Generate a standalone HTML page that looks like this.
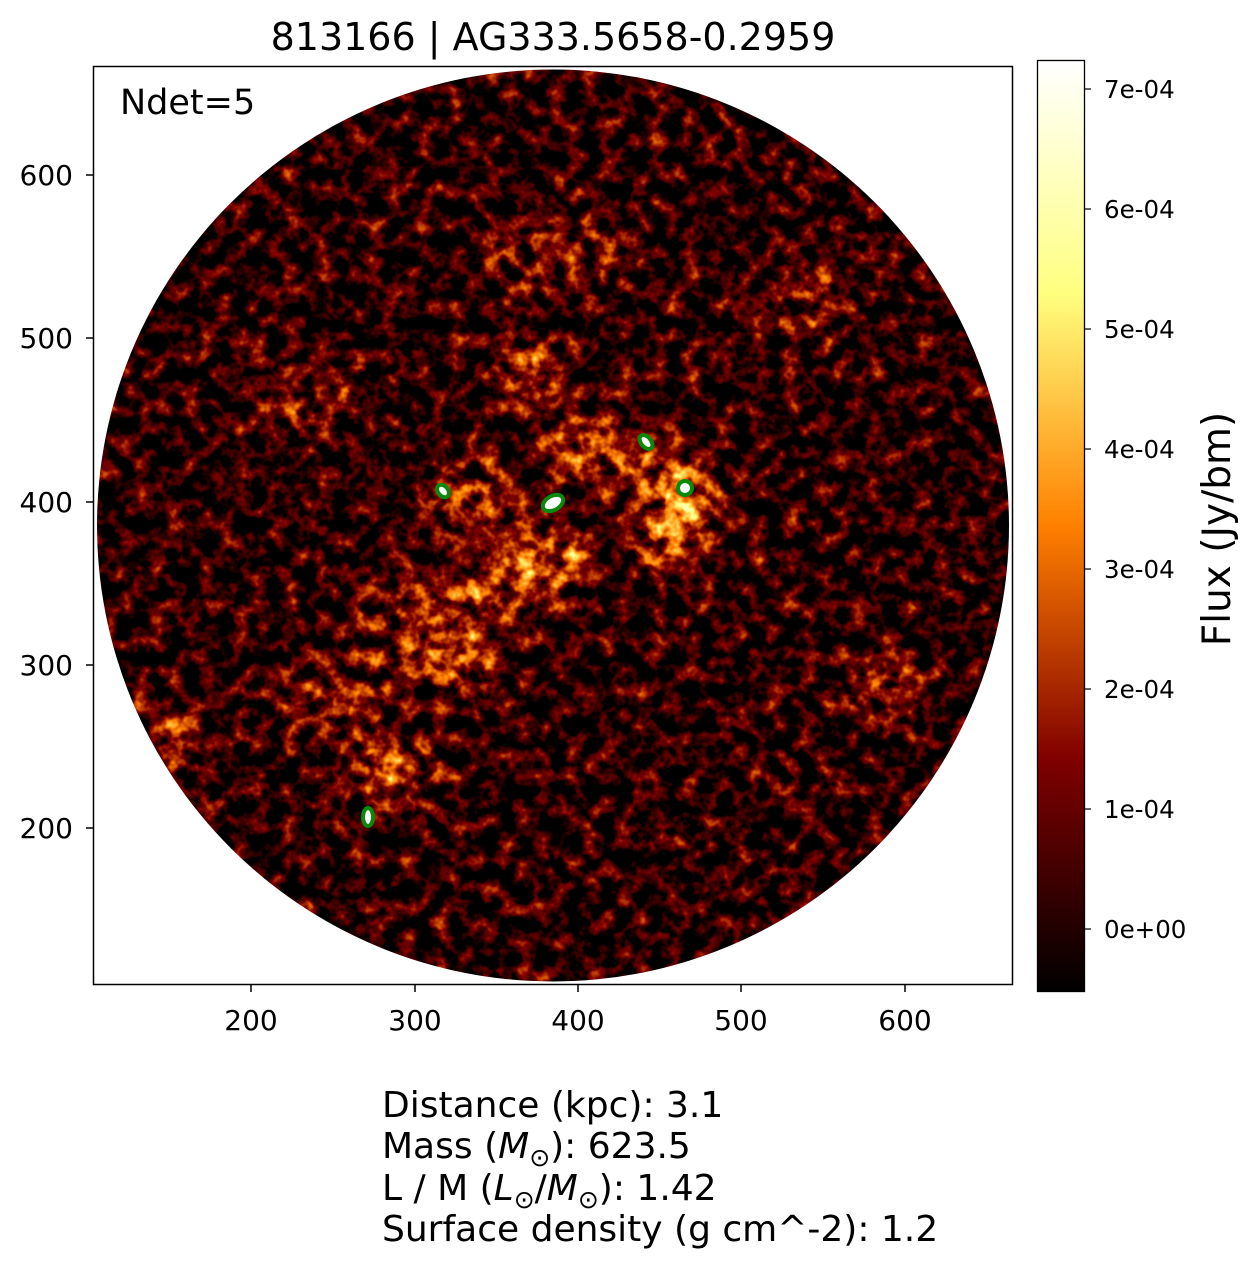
<!DOCTYPE html>
<html><head><meta charset="utf-8"><style>
html,body{margin:0;padding:0;background:#fff;}
body{width:1257px;height:1267px;position:relative;overflow:hidden;font-family:"DejaVu Sans","Liberation Sans",sans-serif;color:#000;}
</style></head><body>
<svg width="1257" height="1267" viewBox="0 0 1257 1267" xmlns="http://www.w3.org/2000/svg" style="position:absolute;left:0;top:0">
<defs>
<clipPath id="cc"><circle cx="553" cy="525.5" r="456"/></clipPath>
<filter id="f" filterUnits="userSpaceOnUse" x="95" y="68" width="918" height="918" color-interpolation-filters="sRGB">
<feTurbulence type="fractalNoise" baseFrequency="0.06" numOctaves="3" seed="7" result="t"/>
<feColorMatrix in="t" type="matrix" values="1 0 0 0 0  1 0 0 0 0  1 0 0 0 0  0 0 0 0 1" result="tg"/>
<feGaussianBlur in="SourceGraphic" stdDeviation="18" result="b"/>
<feComposite in="tg" in2="b" operator="arithmetic" k1="0.5" k2="1.0" k3="0.3" k4="-0.43" result="c"/>
<feComponentTransfer in="c">
<feFuncR type="table" tableValues="0 1 1"/>
<feFuncG type="table" tableValues="0 0 0.5 1 1"/>
<feFuncB type="table" tableValues="0 0 1"/>
<feFuncA type="table" tableValues="1 1"/>
</feComponentTransfer>
</filter>
<linearGradient id="cb" x1="0" y1="1" x2="0" y2="0">
<stop offset="0" stop-color="#000"/>
<stop offset="0.25" stop-color="#800000"/>
<stop offset="0.5" stop-color="#ff8000"/>
<stop offset="0.75" stop-color="#ffff80"/>
<stop offset="1" stop-color="#fff"/>
</linearGradient>
</defs>
<g clip-path="url(#cc)">
<g filter="url(#f)">
<rect x="95" y="68" width="918" height="918" fill="#000"/>
<g fill="#fff">
<ellipse cx="680" cy="505" rx="30" ry="45" opacity="1"/>
<ellipse cx="665" cy="545" rx="30" ry="20" opacity="0.8"/>
<ellipse cx="545" cy="560" rx="45" ry="30" opacity="0.7"/>
<ellipse cx="500" cy="590" rx="40" ry="30" opacity="0.5"/>
<ellipse cx="530" cy="370" rx="30" ry="35" opacity="0.55"/>
<ellipse cx="600" cy="450" rx="60" ry="40" opacity="0.45"/>
<ellipse cx="455" cy="660" rx="45" ry="30" opacity="0.5"/>
<ellipse cx="390" cy="770" rx="45" ry="30" opacity="0.55"/>
<ellipse cx="175" cy="740" rx="25" ry="40" opacity="0.45"/>
<ellipse cx="880" cy="690" rx="40" ry="30" opacity="0.4"/>
<ellipse cx="470" cy="500" rx="50" ry="40" opacity="0.4"/>
<ellipse cx="560" cy="250" rx="80" ry="40" opacity="0.25"/>
<ellipse cx="420" cy="620" rx="60" ry="50" opacity="0.35"/>
<ellipse cx="330" cy="700" rx="60" ry="40" opacity="0.3"/>
<ellipse cx="800" cy="300" rx="60" ry="40" opacity="0.25"/>
<ellipse cx="300" cy="400" rx="60" ry="50" opacity="0.2"/>
</g>
</g>
</g>
<g fill="#fff" stroke="#0a8a0a" stroke-width="4">
<ellipse cx="443" cy="491" rx="5" ry="7" transform="rotate(-40 443 491)"/>
<ellipse cx="553" cy="503" rx="7" ry="11" transform="rotate(60 553 503)"/>
<ellipse cx="646" cy="442" rx="5" ry="8" transform="rotate(-40 646 442)"/>
<ellipse cx="685" cy="488" rx="7" ry="7"/>
<ellipse cx="368" cy="817" rx="5" ry="9"/>
</g>
<rect x="93.5" y="66.5" width="919" height="918" fill="none" stroke="#000" stroke-width="1.5"/>
<g stroke="#000" stroke-width="1.5">
<line x1="251" y1="985" x2="251" y2="992"/><line x1="415" y1="985" x2="415" y2="992"/><line x1="578" y1="985" x2="578" y2="992"/><line x1="741" y1="985" x2="741" y2="992"/><line x1="905" y1="985" x2="905" y2="992"/>
<line x1="86" y1="175" x2="93" y2="175"/><line x1="86" y1="338" x2="93" y2="338"/><line x1="86" y1="502" x2="93" y2="502"/><line x1="86" y1="665" x2="93" y2="665"/><line x1="86" y1="828" x2="93" y2="828"/>
</g>
<g font-size="28" text-anchor="middle" font-family="DejaVu Sans, Liberation Sans, sans-serif">
<text x="251" y="1030">200</text><text x="415" y="1030">300</text><text x="578" y="1030">400</text><text x="741" y="1030">500</text><text x="905" y="1030">600</text>
</g>
<g font-size="28" text-anchor="end" font-family="DejaVu Sans, Liberation Sans, sans-serif">
<text x="73" y="185">600</text><text x="73" y="348">500</text><text x="73" y="512">400</text><text x="73" y="675">300</text><text x="73" y="838">200</text>
</g>
<text x="553" y="50" font-size="38" text-anchor="middle" font-family="DejaVu Sans, Liberation Sans, sans-serif">813166 | AG333.5658-0.2959</text>
<text x="120" y="114" font-size="35" font-family="DejaVu Sans, Liberation Sans, sans-serif">Ndet=5</text>
<rect x="1037.5" y="60.5" width="47" height="931" fill="url(#cb)" stroke="#000" stroke-width="1.3"/>
<g stroke="#000" stroke-width="1.2">
<line x1="1085" y1="89" x2="1091" y2="89"/><line x1="1085" y1="209" x2="1091" y2="209"/><line x1="1085" y1="329" x2="1091" y2="329"/><line x1="1085" y1="449" x2="1091" y2="449"/><line x1="1085" y1="569" x2="1091" y2="569"/><line x1="1085" y1="689" x2="1091" y2="689"/><line x1="1085" y1="809" x2="1091" y2="809"/><line x1="1085" y1="929" x2="1091" y2="929"/>
</g>
<g font-size="24.5" font-family="DejaVu Sans, Liberation Sans, sans-serif">
<text x="1104" y="98">7e-04</text><text x="1104" y="218">6e-04</text><text x="1104" y="338">5e-04</text><text x="1104" y="458">4e-04</text><text x="1104" y="578">3e-04</text><text x="1104" y="698">2e-04</text><text x="1104" y="818">1e-04</text><text x="1104" y="938">0e+00</text>
</g>
<text transform="translate(1230 529) rotate(-90)" font-size="39" text-anchor="middle" font-family="DejaVu Sans, Liberation Sans, sans-serif">Flux (Jy/bm)</text>
<g font-size="36" font-family="DejaVu Sans, Liberation Sans, sans-serif">
<text x="382" y="1117">Distance (kpc): 3.1</text>
<text x="382" y="1158">Mass (<tspan font-style="italic">M</tspan><tspan font-size="25" dy="8">⊙</tspan><tspan dy="-8">): 623.5</tspan></text>
<text x="382" y="1200">L / M (<tspan font-style="italic">L</tspan><tspan font-size="25" dy="8">⊙</tspan><tspan dy="-8">/</tspan><tspan font-style="italic">M</tspan><tspan font-size="25" dy="8">⊙</tspan><tspan dy="-8">): 1.42</tspan></text>
<text x="382" y="1241">Surface density (g cm^-2): 1.2</text>
</g>
</svg>
</body></html>
